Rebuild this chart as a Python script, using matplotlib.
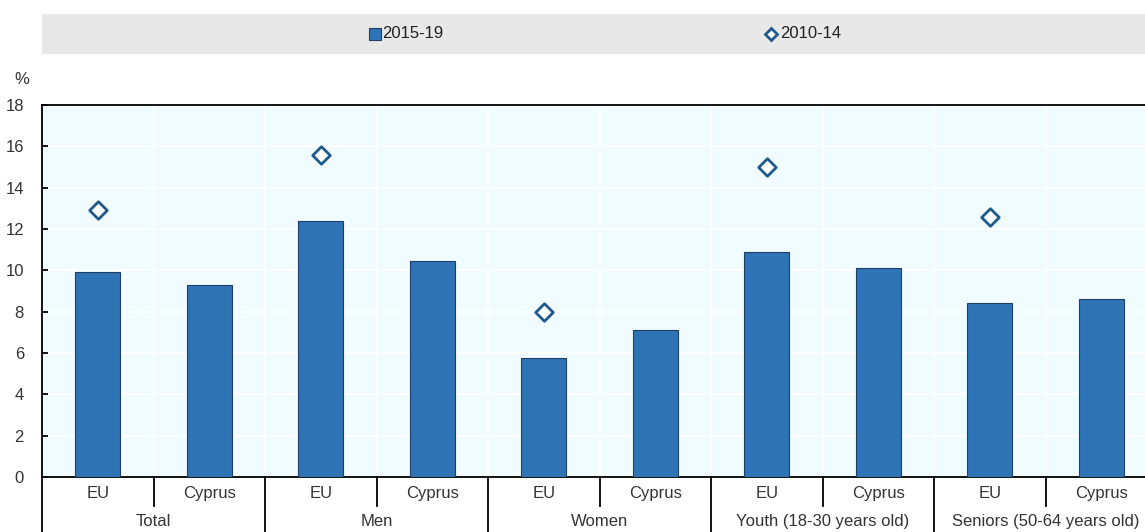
import matplotlib.pyplot as plt
from matplotlib.lines import Line2D
from matplotlib.patches import Rectangle
import numpy as np

plt.rcParams["font.family"] = ["Liberation Sans", "DejaVu Sans"]
plt.rcParams["font.size"] = 12

# data
groups = ["Total", "Men", "Women", "Youth (18-30 years old)", "Seniors (50-64 years old)"]
regions = ["EU", "Cyprus"]
recent = [9.9, 9.3, 12.4, 10.45, 5.75, 7.1, 10.9, 10.1, 8.4, 8.6]   # 2015-19
earlier_eu = [12.9, 15.6, 8.0, 15.0, 12.6]                          # 2010-14, EU only

bar_col = "#2E74B5"
edge_col = "#1F3F66"
dia_col = "#1F5A8C"

W, H = 1145, 532
fig = plt.figure(figsize=(W / 100, H / 100), dpi=100)
# axes runs a bit past the right edge of the image, as in the reference
ax = fig.add_axes([42 / W, 55 / H, 1115 / W, 372 / H])
ax.set_facecolor("#F0FCFF")

x = np.arange(len(recent))
ax.bar(x, recent, width=0.4, color=bar_col, edgecolor=edge_col, linewidth=0.8, zorder=3)
eu_x = x[::2]
ax.scatter(eu_x, earlier_eu, marker="D", s=80, facecolor="white",
           edgecolor=dia_col, linewidth=2, zorder=4)

# white grid: separators between slots and horizontal lines at ticks
for b in np.arange(0.5, len(recent) - 0.5, 1):
    ax.axvline(b, color="white", lw=1.2, zorder=1)
for t in range(2, 18, 2):
    ax.axhline(t, color="white", lw=1.2, zorder=1)

ax.set_xlim(-0.5, len(recent) - 0.5)
ax.set_ylim(0, 18)
ax.set_yticks(range(0, 19, 2))
ax.tick_params(axis="y", direction="in", length=4, width=1.3, pad=13,
               labelsize=12, labelcolor="#333333")
ax.set_xticks([])
for s in ["top", "bottom", "left"]:
    ax.spines[s].set_color("black")
    ax.spines[s].set_linewidth(1.3)
ax.spines["right"].set_visible(False)

trans = ax.get_xaxis_transform()
# category labels
for i in x:
    ax.text(i, -0.045, regions[i % 2], transform=trans, ha="center", va="center",
            fontsize=12, color="#333333")
for g, name in enumerate(groups):
    ax.text(2 * g + 0.5, -0.12, name, transform=trans, ha="center", va="center",
            fontsize=12, color="#333333")
# short ticks between EU and Cyprus, long lines between groups
for g in range(len(groups)):
    ax.add_line(Line2D([2 * g + 0.5] * 2, [0, -0.078], transform=trans,
                       color="black", lw=1.3, clip_on=False))
for b in range(len(groups) + 1):
    ax.add_line(Line2D([2 * b - 0.5] * 2, [0, -0.2], transform=trans,
                       color="black", lw=1.3, clip_on=False))

fig.text(22 / W, 1 - 80 / H, "%", ha="center", va="center", fontsize=12, color="#333333")

# legend band
fig.add_artist(Rectangle((42 / W, 1 - 54 / H), 1 - 42 / W, 40 / H,
                         transform=fig.transFigure, facecolor="#E8E8E8", edgecolor="none"))
ly = 1 - 34 / H
fig.add_artist(Line2D([375 / W], [ly], marker="s", markersize=9, markerfacecolor=bar_col,
                      markeredgecolor=edge_col, markeredgewidth=0.8, linestyle="none",
                      transform=fig.transFigure))
fig.text(382 / W, ly, "2015-19", ha="left", va="center", fontsize=12, color="#222222")
fig.add_artist(Line2D([771 / W], [ly], marker="D", markersize=6.5, markerfacecolor="white",
                      markeredgecolor=dia_col, markeredgewidth=2, linestyle="none",
                      transform=fig.transFigure))
fig.text(780 / W, ly, "2010-14", ha="left", va="center", fontsize=12, color="#222222")

fig.savefig("out.png", dpi=100)
